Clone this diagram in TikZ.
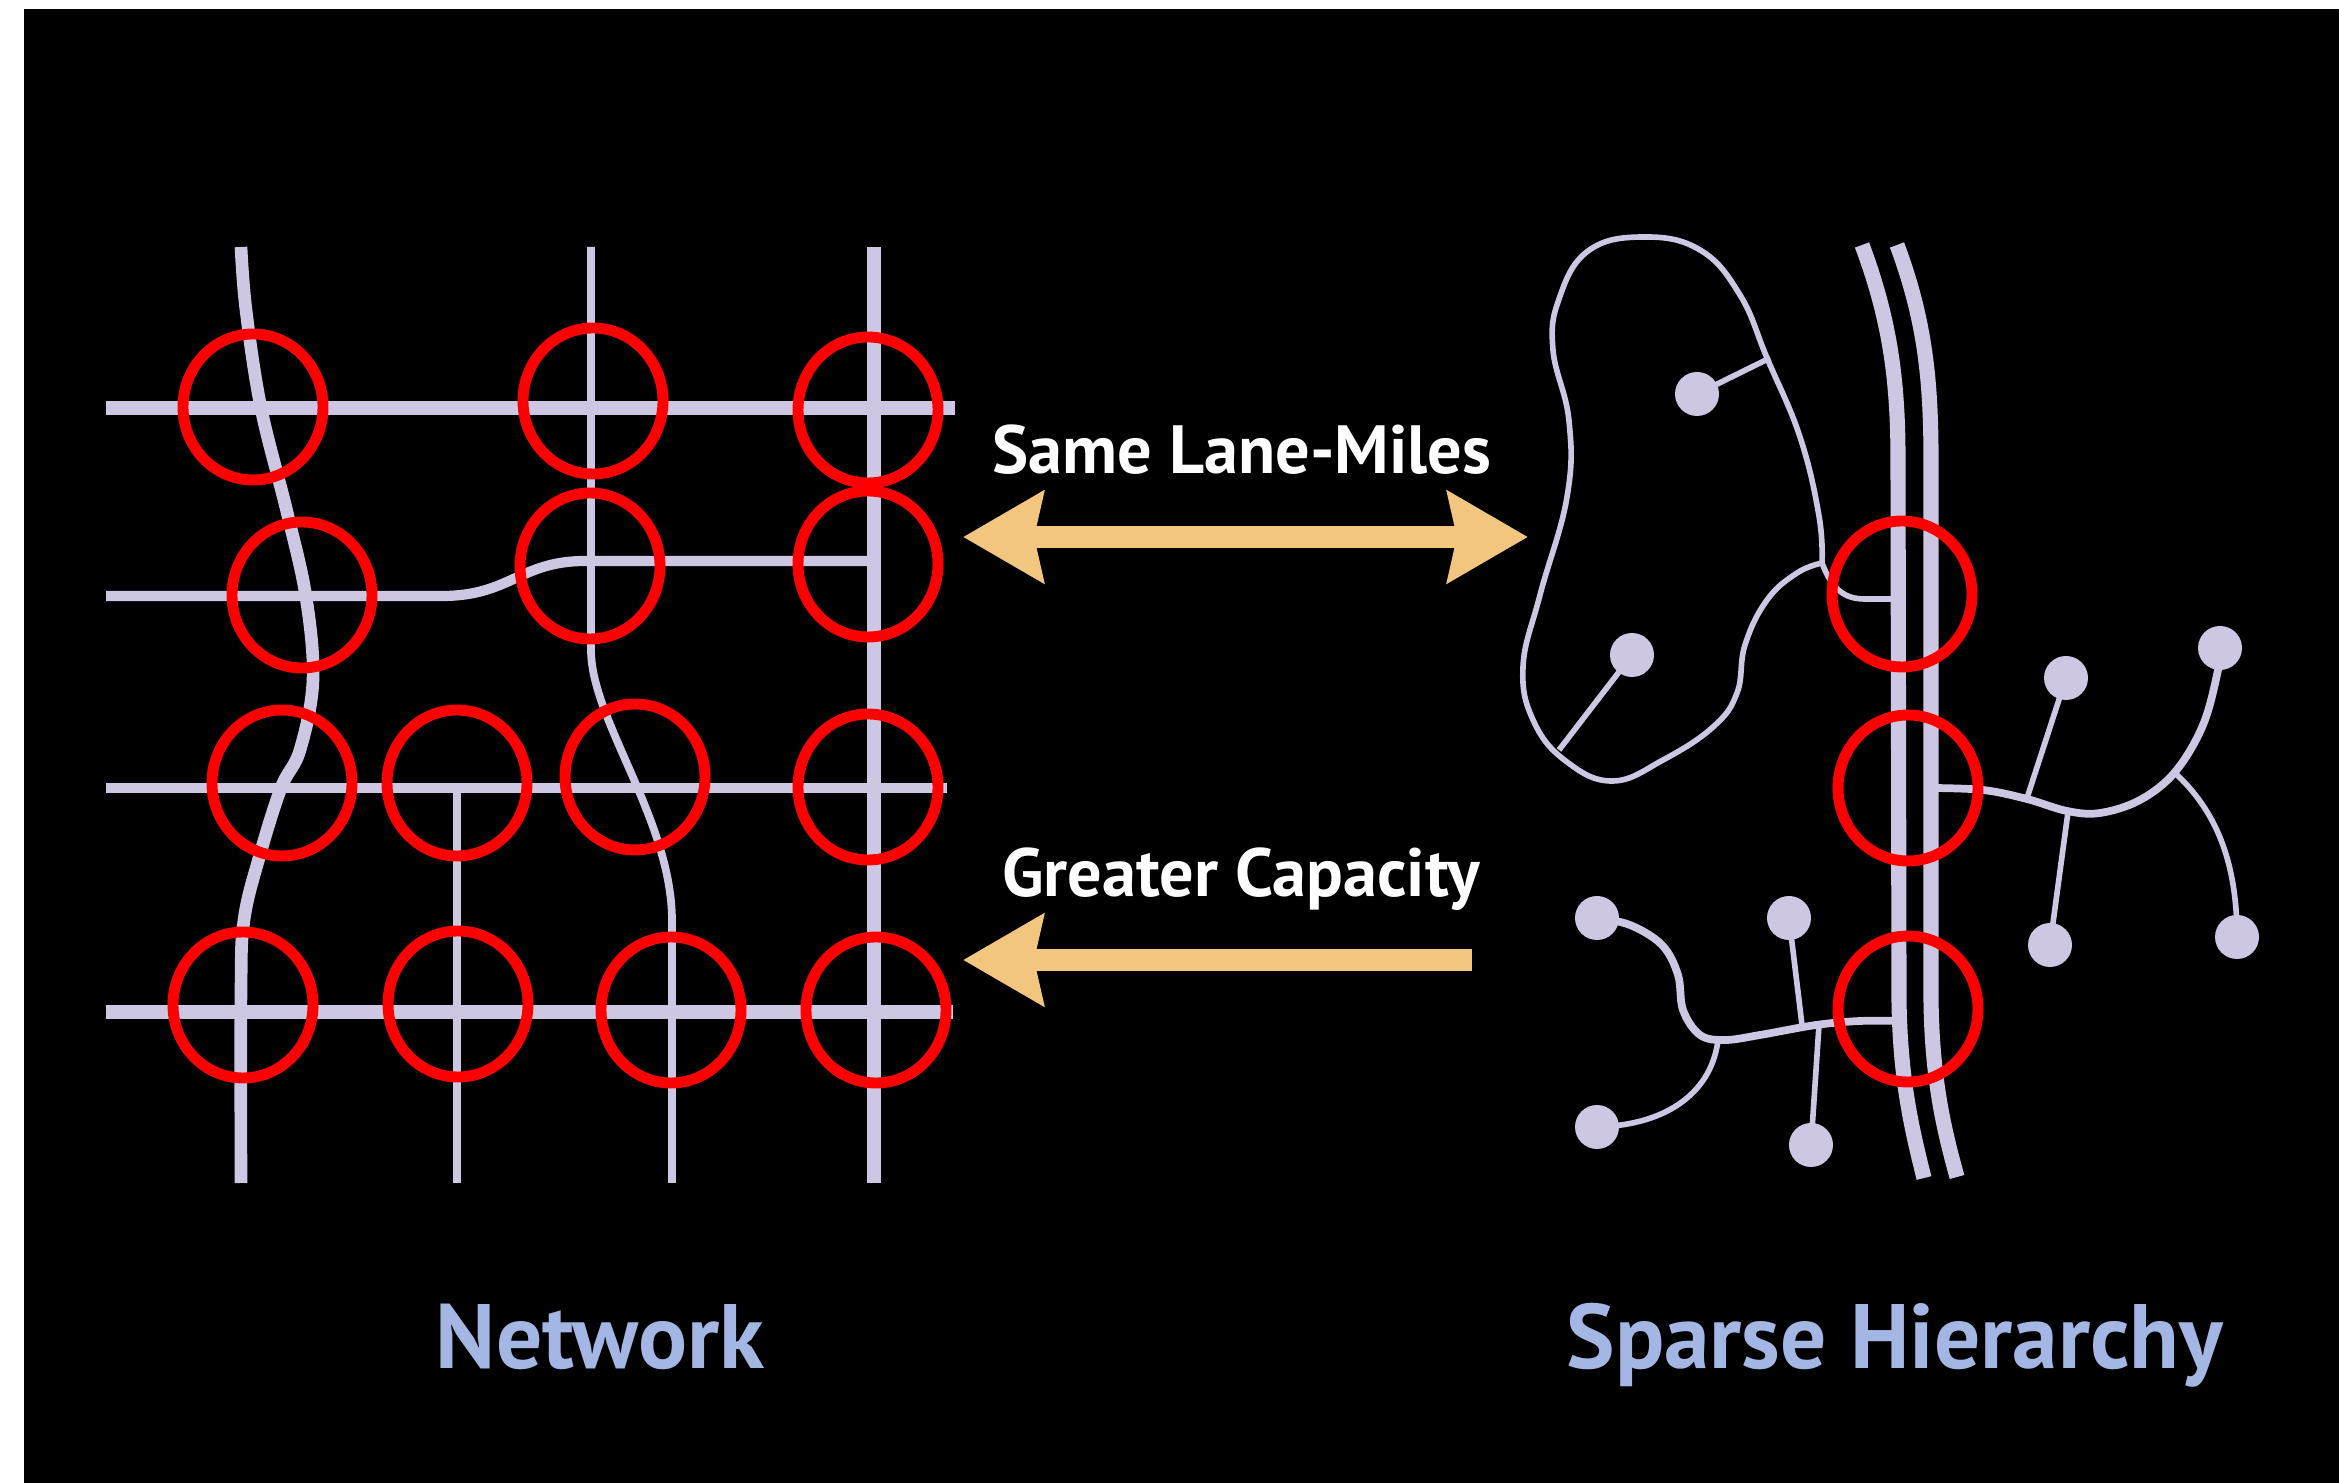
\documentclass[tikz,border=0pt]{standalone}
\usepackage{fontspec}
\setmainfont{PT Sans}
\usetikzlibrary{arrows.meta}
\definecolor{lav}{RGB}{205,199,227}
\definecolor{sand}{RGB}{243,198,128}
\definecolor{capblue}{RGB}{164,182,228}

\begin{document}
\begin{tikzpicture}[x=0.01cm,y=-0.01cm,line cap=butt,
  wide/.style={lav,line width=4.1pt},
  mid/.style={lav,line width=2.9pt},
  slim/.style={lav,line width=2.2pt},
  fine/.style={lav,line width=1.6pt},
  hwy/.style={lav,line width=4.3pt},
  hot/.style={red,line width=3.1pt},
  big/.style={sand,line width=6pt},
  tag/.style={white,font=\fontsize{19.4}{22}\selectfont\bfseries,anchor=base},
  foot/.style={capblue,font=\fontsize{26}{30}\selectfont\bfseries,anchor=base}]
  \useasboundingbox (0,0) rectangle (2339,1483);
  \fill[white] (0,0) rectangle (2339,1483);
  \fill[black] (24,9) rectangle (2339,1483);

  \draw[wide] (106,408) -- (955,408);
  \draw[mid] (106,596) -- (442,596) .. controls (510,596) and (520,561) .. (585,561) -- (874,561);
  \draw[mid] (106,788) -- (947,788);
  \draw[wide] (106,1012) -- (953,1012);
  \draw[wide] (874,247) -- (874,1183);
  \draw[slim] (591,247) -- (591,650) .. controls (591,720) and (672,820) .. (672,921) -- (672,1183);
  \draw[slim] (457,788) -- (457,1183);
  \draw[lav,line width=3.6pt] plot[smooth,tension=0.6] coordinates {(241,247) (246,310) (261,408) (287,512) (306,597) (313,680) (300,750) (281,788) (259,858) (244,920) (241,990) (241,1183)};

  \draw[hwy] (1862,245) .. controls (1890,320) and (1898,380) .. (1898,460) -- (1899,1000) .. controls (1900,1080) and (1912,1130) .. (1924,1178);
  \draw[hwy] (1897,245) .. controls (1925,320) and (1931,380) .. (1931,460) -- (1931,1000) .. controls (1932,1080) and (1944,1130) .. (1957,1177);

  \draw[fine] plot[smooth,tension=0.7] coordinates {(1822,563) (1797,573) (1767,600) (1745,645) (1737,693) (1713,727) (1663,760) (1613,781) (1567,762) (1534,722) (1523,667) (1540,595) (1567,497) (1569,421) (1553,350) (1559,299) (1588,251) (1643,237) (1700,250) (1740,295) (1767,358) (1800,437) (1819,516) (1822,563)};
  \draw[fine] (1822,563) .. controls (1832,590) and (1845,599) .. (1865,599) -- (1898,599);
  \draw[fine] (1697,394) -- (1770,358);
  \draw[fine] (1632,655) -- (1559,750);
  \fill[lav] (1697,394) circle [radius=22];
  \fill[lav] (1632,655) circle [radius=22];

  \draw[slim] plot[smooth,tension=0.6] coordinates {(1931,788) (1983,790) (2027,799) (2067,811) (2100,813) (2140,800) (2175,772) (2203,725) (2218,670) (2220,648)};
  \draw[fine] (2066,678) -- (2027,798);
  \draw[fine] (2068,812) -- (2050,945);
  \draw[fine] (2175,773) .. controls (2215,810) and (2237,860) .. (2237,937);
  \foreach \dx/\dy in {2220/648,2066/678,2050/945,2237/937}
    \fill[lav] (\dx,\dy) circle [radius=22];

  \draw[slim] plot[smooth,tension=0.6] coordinates {(1597,918) (1630,925) (1662,945) (1678,975) (1683,1010) (1700,1035) (1725,1040) (1760,1035) (1816,1025) (1860,1021) (1899,1021)};
  \draw[fine] (1789,918) -- (1802,1025);
  \draw[fine] (1819,1025) -- (1811,1145);
  \draw[fine] (1718,1040) .. controls (1712,1090) and (1670,1125) .. (1597,1127);
  \foreach \dx/\dy in {1597/918,1789/918,1597/1127,1811/1145}
    \fill[lav] (\dx,\dy) circle [radius=22];

  \foreach \cx/\cy in {253/407,593/401,868/410,302/595,590/566,868/564,282/783,457/783,635/777,868/787,243/1005,458/1004,671/1010,876/1010,1902/594,1908/788,1908/1009}
    \draw[hot] (\cx,\cy) ellipse [x radius=70,y radius=73];

  \coordinate (gridA) at (963,537);
  \coordinate (treeA) at (1528,537);
  \coordinate (gridB) at (963,960);
  \coordinate (treeB) at (1472,960);
  \draw[big,{Stealth[length=0.8cm,width=0.9cm,inset=0.09cm]}-{Stealth[length=0.8cm,width=0.9cm,inset=0.09cm]}] (gridA) -- (treeA);
  \draw[big,-{Stealth[length=0.8cm,width=0.9cm,inset=0.09cm]}] (treeB) -- (gridB);

  \node[tag] (same) at (1242,474) {Same Lane-Miles};
  \node[tag] (greater) at (1241,897) {Greater Capacity};
  \node[foot] (net) at (600,1369) {Network};
  \node[foot] (sparse) at (1895,1369) {Sparse Hierarchy};
\end{tikzpicture}
\end{document}
